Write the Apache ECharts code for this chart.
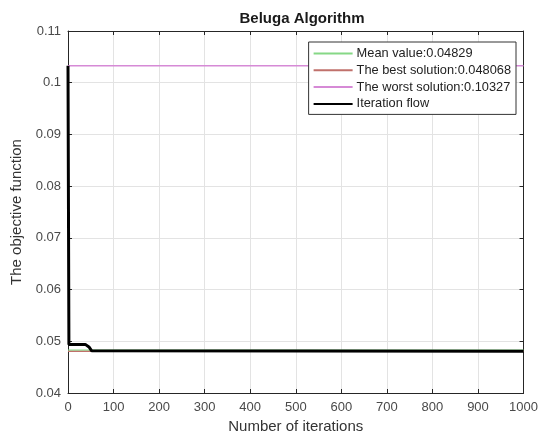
<!DOCTYPE html>
<html><head><meta charset="utf-8">
<script src="https://cdn.jsdelivr.net/npm/echarts@6/dist/echarts.min.js"></script>
<style>html,body{margin:0;padding:0;background:#fff}#c{width:541px;height:439px}</style>
</head><body><div id="c"></div>
<script>
const titleText = 'Beluga Algorithm';
const xName = 'Number of iterations';
const yName = 'The objective function';
const seriesNames = ['Mean value:0.04829', 'The best solution:0.048068', 'The worst solution:0.10327', 'Iteration flow'];
const meanValue = [[0, 0.04829], [1000, 0.04829]];
const bestValue = [[0, 0.048068], [1000, 0.048068]];
const worstValue = [[0, 0.10327], [1000, 0.10327]];
const iterationFlow = [[0, 0.10327], [1, 0.10327], [2, 0.0494], [38, 0.0494], [42, 0.04935], [46, 0.0489], [52, 0.04815], [56, 0.04807], [1000, 0.04807]];
const xTicks = [0, 100, 200, 300, 400, 500, 600, 700, 800, 900, 1000];
const yTicks = [0.04, 0.05, 0.06, 0.07, 0.08, 0.09, 0.1, 0.11];

const font = 'Liberation Sans, Arial, sans-serif';
const chart = echarts.init(document.getElementById('c'));
const axisLineStyle = { color: '#262626', width: 1 };
const baseX = {
  type: 'value', min: xTicks[0], max: xTicks[xTicks.length - 1], interval: xTicks[1] - xTicks[0],
  axisLine: { show: true, onZero: false, lineStyle: axisLineStyle },
  axisTick: { show: true, inside: true, length: 4, lineStyle: { color: '#262626' } },
};
const baseY = {
  type: 'value', min: yTicks[0], max: yTicks[yTicks.length - 1], interval: 0.01,
  axisLine: { show: true, onZero: false, lineStyle: axisLineStyle },
  axisTick: { show: true, inside: true, length: 4, lineStyle: { color: '#262626' } },
};
chart.setOption({
  animation: false,
  backgroundColor: '#fff',
  title: {
    text: titleText, left: 297, top: 6, textAlign: 'center',
    textStyle: { fontFamily: font, fontSize: 15, fontWeight: 'bold', color: '#1a1a1a' }
  },
  grid: { left: 68, right: 15, top: 31, bottom: 46, containLabel: false },
  legend: {
    orient: 'vertical', right: 25, top: 42,
    backgroundColor: '#fff', borderColor: '#333', borderWidth: 1, borderRadius: 0,
    padding: [5, 5, 4, 4], itemGap: 3.8, itemWidth: 39, itemHeight: 13,
    itemStyle: { opacity: 0 },
    textStyle: { fontFamily: font, fontSize: 12.8, color: '#222', padding: [0, 0, 0, -1] },
    data: seriesNames
  },
  xAxis: [
    Object.assign({}, baseX, {
      position: 'bottom',
      name: xName, nameLocation: 'middle', nameGap: 26,
      nameTextStyle: { fontFamily: font, fontSize: 15, color: '#333' },
      axisLabel: { fontFamily: font, fontSize: 13, color: '#4a4a4a', margin: 8,
        formatter: v => String(v) },
      splitLine: { show: true, lineStyle: { color: '#e3e3e3', width: 1 } }
    }),
    Object.assign({}, baseX, {
      position: 'top',
      axisLabel: { show: false }, splitLine: { show: false }
    })
  ],
  yAxis: [
    Object.assign({}, baseY, {
      position: 'left',
      name: yName, nameLocation: 'middle', nameGap: 39,
      nameTextStyle: { fontFamily: font, fontSize: 15, color: '#333' },
      axisLabel: { fontFamily: font, fontSize: 13, color: '#4a4a4a', margin: 7,
        formatter: v => String(+v.toFixed(2)) },
      splitLine: { show: true, lineStyle: { color: '#e3e3e3', width: 1 } }
    }),
    Object.assign({}, baseY, {
      position: 'right',
      axisLabel: { show: false }, splitLine: { show: false }
    })
  ],
  series: [
    { name: seriesNames[0], type: 'line', data: meanValue, symbol: 'none', z: 3,
      lineStyle: { color: '#86d886', width: 1.2 }, itemStyle: { color: '#86d886' } },
    { name: seriesNames[1], type: 'line', data: bestValue, symbol: 'none', z: 3,
      lineStyle: { color: '#c0716b', width: 1.2 }, itemStyle: { color: '#c0716b' } },
    { name: seriesNames[2], type: 'line', data: worstValue, symbol: 'none', z: 3,
      lineStyle: { color: '#d68ad6', width: 1.5 }, itemStyle: { color: '#d68ad6' } },
    { name: seriesNames[3], type: 'line', data: iterationFlow, symbol: 'none', z: 4,
      lineStyle: { color: '#000', width: 3 }, itemStyle: { color: '#000' } }
  ]
});
</script></body></html>
